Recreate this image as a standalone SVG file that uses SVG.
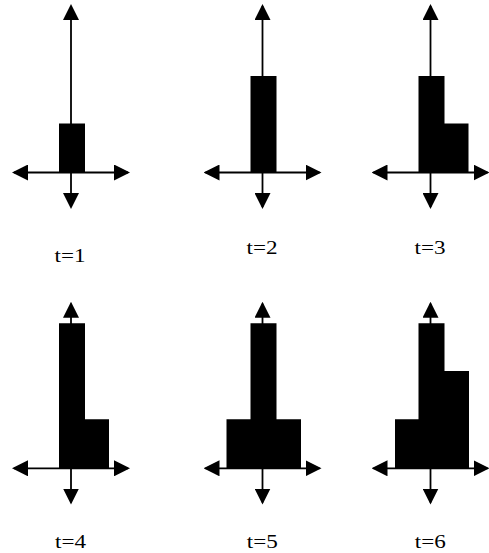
<svg xmlns="http://www.w3.org/2000/svg" width="489" height="553" viewBox="0 0 489 553">
  <style>
    .ax { stroke: #000; stroke-width: 1.8; fill: none; marker-start: url(#ah); marker-end: url(#ah); }
    .bar { fill: #000; }
    .lbl { font-family: "Liberation Serif", "Times New Roman", serif; font-size: 19px; fill: #000; text-anchor: middle; }
  </style>
  <defs>
    <marker id="ah" viewBox="0 0 16 16" refX="14" refY="8" markerWidth="16" markerHeight="16" markerUnits="userSpaceOnUse" orient="auto-start-reverse">
      <path d="M0,0 L16,8 L0,16 z" fill="#000"/>
    </marker>
  </defs>
  <rect width="489" height="553" fill="#fff"/>

  <g id="connectors">
    <line class="ax" x1="14" y1="172.5" x2="128" y2="172.5"/>
    <line class="ax" x1="71" y1="6" x2="71" y2="207"/>
    <line class="ax" x1="205.5" y1="172.5" x2="319.5" y2="172.5"/>
    <line class="ax" x1="262.5" y1="6" x2="262.5" y2="207"/>
    <line class="ax" x1="373.5" y1="172.5" x2="487.5" y2="172.5"/>
    <line class="ax" x1="430.5" y1="6" x2="430.5" y2="207"/>
    <line class="ax" x1="14" y1="468.3" x2="128" y2="468.3"/>
    <line class="ax" x1="71" y1="303.7" x2="71" y2="502.5"/>
    <line class="ax" x1="205.5" y1="468.3" x2="319.5" y2="468.3"/>
    <line class="ax" x1="262.5" y1="303.7" x2="262.5" y2="502.5"/>
    <line class="ax" x1="373.5" y1="468.3" x2="487.5" y2="468.3"/>
    <line class="ax" x1="430.5" y1="303.7" x2="430.5" y2="502.5"/>
  </g>

  <g id="panel-t1">
    <path class="bar" d="M59,123.5 H85 V172.5 H59 Z"/>
    <text class="lbl" x="70" y="262" textLength="31" lengthAdjust="spacingAndGlyphs">t=1</text>
  </g>

  <g id="panel-t2">
    <path class="bar" d="M250.5,76 H276.5 V172.5 H250.5 Z"/>
    <text class="lbl" x="262" y="254" textLength="31" lengthAdjust="spacingAndGlyphs">t=2</text>
  </g>

  <g id="panel-t3">
    <path class="bar" d="M418.5,76 H444.5 V123.5 H468.5 V172.5 H418.5 Z"/>
    <text class="lbl" x="430" y="254" textLength="31" lengthAdjust="spacingAndGlyphs">t=3</text>
  </g>

  <g id="panel-t4">
    <path class="bar" d="M59,323.3 H85 V419.3 H109 V468.3 H59 Z"/>
    <text class="lbl" x="70.5" y="547.5" textLength="31" lengthAdjust="spacingAndGlyphs">t=4</text>
  </g>

  <g id="panel-t5">
    <path class="bar" d="M226.5,419.3 H250.5 V323.3 H276.5 V419.3 H301 V468.3 H226.5 Z"/>
    <text class="lbl" x="262.3" y="548" textLength="31" lengthAdjust="spacingAndGlyphs">t=5</text>
  </g>

  <g id="panel-t6">
    <path class="bar" d="M395,419.3 H418.5 V323.3 H444.5 V371 H469 V468.3 H395 Z"/>
    <text class="lbl" x="430.3" y="548" textLength="31" lengthAdjust="spacingAndGlyphs">t=6</text>
  </g>
</svg>
